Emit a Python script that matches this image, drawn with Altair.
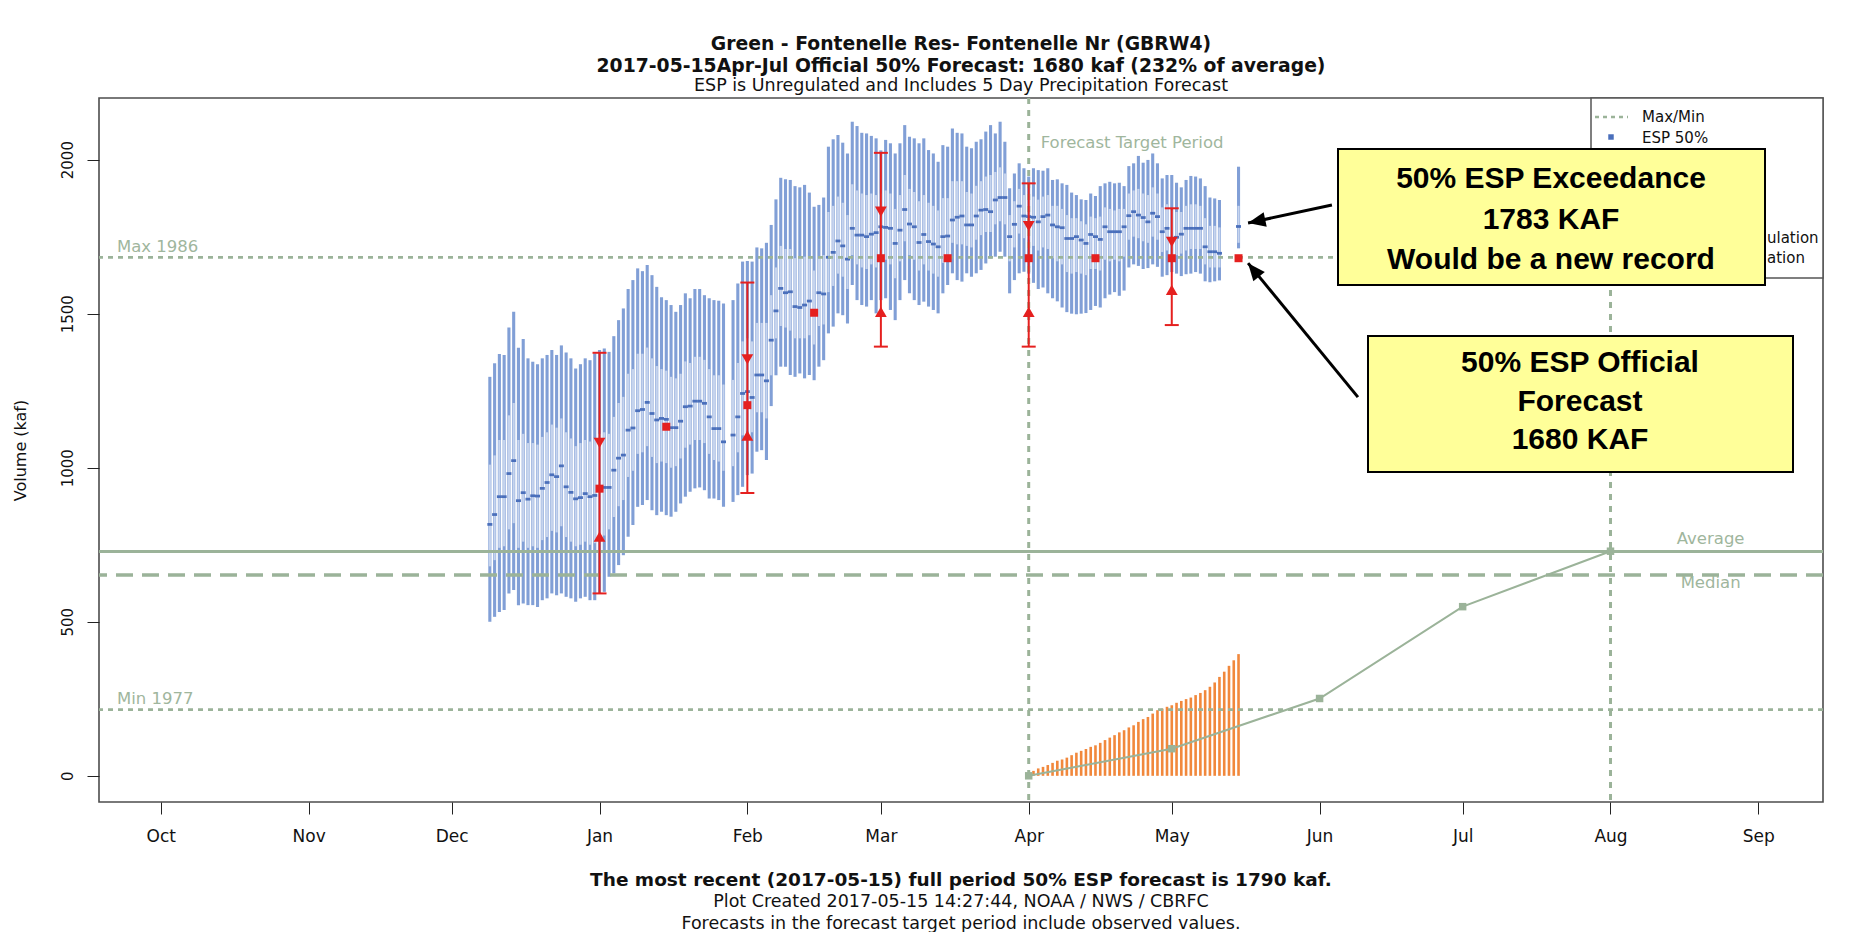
import altair as alt
import pandas as pd

# ---------------- data ----------------
ESP_START, ESP_END = "2016-12-09", "2017-05-11"
ESP_LAST_DATE = "2017-05-15"

ESP_HI = (
    [1295, 1339, 1369, 1366, 1455, 1506, 1389, 1418, 1355, 1344, 1336, 1355, 1366, 1382, 1366, 1397, 1374, 1355, 1322, 1336, 1355, 1349, 1371]
    + [1382, 1387, 1376, 1427, 1479, 1517, 1580, 1609, 1647, 1638, 1658, 1625, 1587, 1553, 1544, 1528, 1506, 1528, 1566, 1550, 1580, 1580, 1560, 1550, 1544, 1542, 1533, None, 1544, 1598, 1669]
    + [1671, 1669, 1715, 1712, 1730, 1788, 1871, 1941, 1936, 1934, 1914, 1910, 1918, 1893, 1847, 1853, 1877, 2042, 2066, 2080, 2055, 2020, 2123, 2109, 2087, 2085, 2077, 2069]
    + [2030, 2064, 2053, 2020, 2053, 2112, 2074, 2069, 2053, 2069, 2031, 2020, 1993, 2047, 2042, 2101, 2087, 2085, 2042, 2037, 2058, 2066, 2091, 2112, 2085, 2123, 2058, 1907, 1955, 1988, 1972]
    + [1945, 1972, 1966, 1964, 1972, 1934, 1936, 1923, 1918, 1893, 1885, 1871, 1869, 1890, 1882, 1914, 1923, 1928, 1923, 1925, 1914, 1979, 1988, 2012, 1990, 1999, 2020, 1988, 1939, 1950]
    + [1950, 1925, 1910, 1934, 1947, 1945, 1939, 1914, 1877, 1874, 1869]
    + [1977]
)
ESP_Q75 = (
    [1010, 1040, 1090, 1090, 1170, 1210, 1090, 1110, 1080, 1080, 1075, 1100, 1115, 1140, 1130, 1160, 1115, 1095, 1070, 1080, 1090, 1085, 1095]
    + [1110, 1115, 1110, 1165, 1210, 1230, 1305, 1320, 1370, 1370, 1390, 1355, 1330, 1320, 1315, 1295, 1290, 1305, 1345, 1340, 1360, 1360, 1350, 1320, 1300, 1300, 1270, None, 1285, 1340, 1410]
    + [1420, 1410, 1470, 1470, 1470, 1560, 1650, 1720, 1710, 1710, 1680, 1680, 1685, 1680, 1640, 1680, 1690, 1830, 1850, 1880, 1860, 1820, 1920, 1900, 1890, 1885, 1890, 1885]
    + [1890, 1900, 1890, 1840, 1885, 1950, 1905, 1895, 1865, 1885, 1860, 1850, 1835, 1875, 1875, 1930, 1930, 1930, 1895, 1890, 1915, 1930, 1945, 1950, 1960, 1975, 1955, 1820, 1865, 1905, 1885]
    + [1870, 1880, 1870, 1880, 1885, 1850, 1850, 1840, 1820, 1810, 1810, 1800, 1790, 1815, 1810, 1815, 1845, 1840, 1835, 1840, 1840, 1890, 1900, 1905, 1890, 1885, 1910, 1890, 1845, 1855]
    + [1835, 1830, 1830, 1850, 1855, 1855, 1850, 1810, 1785, 1785, 1780]
    + [1850]
)
ESP_MED = (
    [816, 848, 906, 906, 981, 1023, 893, 919, 898, 909, 908, 933, 952, 977, 971, 1006, 938, 920, 899, 903, 916, 906, 910]
    + [933, 936, 936, 992, 1031, 1041, 1122, 1129, 1185, 1189, 1212, 1176, 1155, 1160, 1157, 1130, 1130, 1151, 1198, 1200, 1216, 1216, 1209, 1165, 1127, 1127, 1084, None, 1106, 1165, 1241]
    + [1247, 1228, 1301, 1301, 1282, 1414, 1509, 1582, 1568, 1571, 1523, 1520, 1528, 1541, 1503, 1568, 1564, 1683, 1699, 1736, 1720, 1677, 1777, 1755, 1755, 1750, 1758, 1763]
    + [1782, 1780, 1777, 1728, 1771, 1838, 1791, 1782, 1731, 1757, 1734, 1726, 1717, 1750, 1752, 1804, 1813, 1817, 1788, 1788, 1817, 1836, 1838, 1831, 1869, 1877, 1877, 1750, 1790, 1849, 1817]
    + [1815, 1813, 1798, 1815, 1820, 1788, 1782, 1779, 1744, 1744, 1750, 1739, 1728, 1757, 1750, 1741, 1782, 1766, 1766, 1766, 1782, 1818, 1831, 1820, 1812, 1798, 1826, 1815, 1766, 1777]
    + [1739, 1748, 1758, 1777, 1777, 1777, 1777, 1717, 1701, 1701, 1696]
    + [1783]
)
ESP_Q25 = (
    [680, 700, 740, 745, 800, 820, 740, 760, 740, 745, 740, 765, 775, 795, 790, 810, 775, 760, 745, 750, 760, 750, 755]
    + [775, 780, 800, 840, 875, 895, 970, 990, 1045, 1050, 1070, 1035, 1015, 1020, 1015, 1000, 1005, 1030, 1065, 1075, 1090, 1090, 1080, 1045, 1025, 1020, 990, None, 1005, 1050, 1105]
    + [1120, 1115, 1180, 1180, 1160, 1300, 1420, 1460, 1455, 1445, 1420, 1420, 1420, 1430, 1400, 1460, 1465, 1570, 1590, 1630, 1620, 1580, 1690, 1660, 1650, 1645, 1660, 1650]
    + [1675, 1675, 1660, 1615, 1670, 1735, 1690, 1675, 1640, 1660, 1640, 1630, 1620, 1665, 1680, 1730, 1725, 1725, 1720, 1715, 1740, 1755, 1765, 1765, 1790, 1800, 1790, 1670, 1715, 1760, 1745]
    + [1740, 1720, 1705, 1715, 1710, 1680, 1670, 1660, 1635, 1630, 1635, 1630, 1625, 1645, 1645, 1640, 1675, 1670, 1675, 1670, 1685, 1740, 1750, 1745, 1735, 1730, 1750, 1740, 1700, 1705]
    + [1690, 1690, 1695, 1705, 1710, 1710, 1710, 1660, 1650, 1650, 1650]
    + [1730]
)
ESP_LO = (
    [500, 516, 532, 538, 592, 603, 554, 559, 554, 554, 548, 570, 576, 592, 586, 592, 581, 576, 565, 576, 581, 570, 570]
    + [592, 597, 646, 657, 684, 716, 776, 814, 873, 879, 895, 862, 846, 857, 846, 841, 857, 884, 906, 922, 933, 936, 927, 900, 900, 895, 873, None, 889, 911, 938]
    + [976, 981, 1052, 1057, 1025, 1200, 1300, 1328, 1328, 1301, 1295, 1306, 1290, 1301, 1284, 1328, 1349, 1436, 1458, 1501, 1495, 1468, 1593, 1544, 1528, 1523, 1544, 1501]
    + [1544, 1550, 1512, 1479, 1544, 1609, 1566, 1544, 1528, 1539, 1523, 1512, 1501, 1566, 1593, 1631, 1609, 1604, 1631, 1620, 1631, 1642, 1663, 1679, 1685, 1701, 1685, 1566, 1609, 1631, 1636]
    + [1630, 1600, 1580, 1585, 1566, 1550, 1540, 1520, 1505, 1500, 1498, 1500, 1502, 1512, 1525, 1520, 1550, 1562, 1570, 1558, 1575, 1650, 1660, 1655, 1645, 1648, 1660, 1652, 1620, 1625]
    + [1635, 1630, 1622, 1628, 1630, 1635, 1630, 1605, 1602, 1605, 1608]
    + [1712]
)

OFFICIAL_DATES = ["2017-01-01", "2017-01-15", "2017-02-01", "2017-02-15", "2017-03-01",
                  "2017-03-15", "2017-04-01", "2017-04-15", "2017-05-01", "2017-05-15"]
OFFICIAL_50 = [932, 1133, 1203, 1503, 1680, 1680, 1680, 1680, 1680, 1680]
BAR_DATES = ["2017-01-01", "2017-02-01", "2017-03-01", "2017-04-01", "2017-05-01"]
BAR_HI = [1373, 1601, 2022, 1923, 1842]
BAR_LO = [592, 918, 1393, 1393, 1463]
TRI_DOWN = [1081, 1352, 1831, 1784, 1733]
TRI_UP = [776, 1104, 1506, 1506, 1577]

OBS_START, OBS_END = "2017-04-02", "2017-05-15"
OBS_ACC = [16, 24, 29, 35, 42, 49, 53, 59, 67, 75, 81, 87, 94, 99, 107, 116, 124, 132, 141, 148,
           157, 164, 175, 184, 191, 202, 213, 218, 224, 229, 237, 243, 249, 254, 262, 269, 278, 289,
           303, 321, 338, 357, 375, 395]

AVG_ACC_DATES = ["2017-04-01", "2017-05-01", "2017-06-01", "2017-07-01", "2017-08-01"]
AVG_ACC = [0, 88, 251, 549, 729]

AVERAGE, MEDIAN, MAX_VAL, MIN_VAL = 728, 652, 1683, 215
TARGET_DATES = ["2017-04-01", "2017-08-01"]

ARROW_FROM = ["2017-06-03T14:00:00Z", "2017-06-09T01:00:00Z"]
ARROW_FROM_V = [1853, 1229]
ARROW_TO = ["2017-05-17T00:00:00Z", "2017-05-17T00:00:00Z"]
ARROW_TO_V = [1794, 1664]
ARROW_ANGLE = [258, 321]

MONTHS = [(2016, 10), (2016, 11), (2016, 12), (2017, 1), (2017, 2), (2017, 3),
          (2017, 4), (2017, 5), (2017, 6), (2017, 7), (2017, 8), (2017, 9)]

# ---------------- styling ----------------
W, H = 1724, 704
FONT = "DejaVu Sans"
BOX_FONT = "Liberation Sans"
GREEN = "#9bb399"
GREEN_TXT = "#9fb69d"
ESP_DARK = "#819fd6"
ESP_LIGHT = "#c6d4ee"
ESP_DOT = "#4a6fbb"
RED = "#e5201f"
ORANGE = "#f1883c"

xscale = alt.Scale(type="utc", domain=[
    alt.DateTime(year=2016, month=9, date=18, hours=1, utc=True),
    alt.DateTime(year=2017, month=9, date=14, hours=13, minutes=30, utc=True)])
yscale = alt.Scale(domain=[-85, 2200], nice=False, zero=False)

xaxis = alt.Axis(values=[alt.DateTime(year=y, month=m, date=1, utc=True) for y, m in MONTHS],
                 labelExpr="utcFormat(datum.value, '%b')", title=None, grid=False, domain=False,
                 tickSize=12, tickColor="#222", tickWidth=1, labelFont=FONT, labelFontSize=17,
                 labelColor="#111", labelPadding=14, labelFlush=False, labelOverlap=False)
yaxis = alt.Axis(values=[0, 500, 1000, 1500, 2000], format="d", title="Volume (kaf)", grid=False,
                 domain=False, tickSize=12, tickColor="#222", tickWidth=1, labelFont=FONT,
                 labelFontSize=15, labelColor="#111", labelAngle=270, labelAlign="center",
                 labelBaseline="bottom", labelPadding=12, titleFont=FONT, titleFontSize=16,
                 titleFontWeight="normal", titleColor="#111", titleAngle=270, titleX=-79, titleY=352,
                 titleAlign="center", titleBaseline="middle")


def X(field="date"):
    return alt.X(f"{field}:T", scale=xscale, axis=xaxis)


def Y(field="v"):
    return alt.Y(f"{field}:Q", scale=yscale, axis=yaxis)


one = pd.DataFrame({"k": [0]})


def txt(s, x, y, size, weight="normal", color="#111", align="center", font=FONT):
    return alt.Chart(one).mark_text(text=s, font=font, fontSize=size, fontWeight=weight,
                                    color=color, align=align, baseline="middle"
                                    ).encode(x=alt.value(x), y=alt.value(y))


# ---------------- tables ----------------
esp_dates = list(pd.date_range(ESP_START, ESP_END, freq="D").strftime("%Y-%m-%d")) + [ESP_LAST_DATE]
esp = pd.DataFrame({"date": esp_dates, "lo": ESP_LO, "q25": ESP_Q25, "med": ESP_MED,
                    "q75": ESP_Q75, "hi": ESP_HI}).dropna()
obs = pd.DataFrame({"date": list(pd.date_range(OBS_START, OBS_END, freq="D").strftime("%Y-%m-%d")),
                    "v": OBS_ACC, "base": [0] * len(OBS_ACC)})
avg_acc = pd.DataFrame({"date": AVG_ACC_DATES, "v": AVG_ACC})
official = pd.DataFrame({"date": OFFICIAL_DATES, "v": OFFICIAL_50})
bars = pd.DataFrame({"date": BAR_DATES, "lo": BAR_LO, "hi": BAR_HI})
caps = pd.DataFrame({"date": BAR_DATES + BAR_DATES, "v": BAR_HI + BAR_LO})
tri_dn = pd.DataFrame({"date": BAR_DATES, "v": TRI_DOWN})
tri_up = pd.DataFrame({"date": BAR_DATES, "v": TRI_UP})
arrows = pd.DataFrame({"date": ARROW_FROM, "v": ARROW_FROM_V, "date2": ARROW_TO, "v2": ARROW_TO_V})
heads = pd.DataFrame({"date": ARROW_TO, "v": ARROW_TO_V, "angle": ARROW_ANGLE})

layers = []

# ESP traces
layers.append(alt.Chart(esp).mark_rule(color=ESP_DARK, strokeWidth=3.1).encode(
    x=X(), y=Y("lo"), y2="hi:Q"))
layers.append(alt.Chart(esp).mark_rule(color=ESP_LIGHT, strokeWidth=2.2).encode(
    x=X(), y=Y("q25"), y2="q75:Q"))
layers.append(alt.Chart(esp).mark_point(shape="M-1,-0.55L1,-0.55L1,0.55L-1,0.55Z", filled=True,
                                         size=25, color=ESP_DOT, opacity=1).encode(x=X(), y=Y("med")))

# observed accumulation
layers.append(alt.Chart(obs).mark_rule(color=ORANGE, strokeWidth=2.6).encode(
    x=X(), y=Y("base"), y2="v:Q"))

# reference lines
layers.append(alt.Chart(pd.DataFrame({"v": [AVERAGE]})).mark_rule(
    color=GREEN, strokeWidth=3).encode(y=Y()))
layers.append(alt.Chart(pd.DataFrame({"v": [MEDIAN]})).mark_rule(
    color=GREEN, strokeWidth=3.4, strokeDash=[17, 9]).encode(y=Y()))
layers.append(alt.Chart(pd.DataFrame({"v": [MAX_VAL, MIN_VAL]})).mark_rule(
    color=GREEN, strokeWidth=2.7, strokeDash=[5, 5]).encode(y=Y()))
layers.append(alt.Chart(pd.DataFrame({"date": TARGET_DATES})).mark_rule(
    color=GREEN, strokeWidth=3, strokeDash=[6, 6]).encode(x=X()))

# average accumulation
layers.append(alt.Chart(avg_acc).mark_line(color=GREEN, strokeWidth=2).encode(x=X(), y=Y()))
layers.append(alt.Chart(avg_acc).mark_point(shape="square", filled=True, size=56, color=GREEN,
                                             opacity=1).encode(x=X(), y=Y()))

# official forecasts
layers.append(alt.Chart(bars).mark_rule(color=RED, strokeWidth=2).encode(x=X(), y=Y("lo"), y2="hi:Q"))
layers.append(alt.Chart(caps).mark_point(shape="M-1,0L1,0", filled=False, size=196, color=RED,
                                          strokeWidth=2, opacity=1).encode(x=X(), y=Y()))
layers.append(alt.Chart(tri_dn).mark_point(shape="triangle-down", filled=True, size=140, color=RED,
                                            opacity=1).encode(x=X(), y=Y()))
layers.append(alt.Chart(tri_up).mark_point(shape="triangle-up", filled=True, size=140, color=RED,
                                            opacity=1).encode(x=X(), y=Y()))
layers.append(alt.Chart(official).mark_point(shape="square", filled=True, size=64, color=RED,
                                              opacity=1).encode(x=X(), y=Y()))

# green labels
lab = dict(font=FONT, fontSize=16.5, color=GREEN_TXT, baseline="middle")
layers.append(alt.Chart(pd.DataFrame({"v": [MAX_VAL]})).mark_text(
    text="Max 1986", align="left", dy=-10, **lab).encode(x=alt.value(18), y=Y()))
layers.append(alt.Chart(pd.DataFrame({"v": [MIN_VAL]})).mark_text(
    text="Min 1977", align="left", dy=-11, **lab).encode(x=alt.value(18), y=Y()))
layers.append(alt.Chart(pd.DataFrame({"date": ["2017-08-22"], "v": [AVERAGE]})).mark_text(
    text="Average", align="center", dy=-13, **lab).encode(x=X(), y=Y()))
layers.append(alt.Chart(pd.DataFrame({"date": ["2017-08-22"], "v": [MEDIAN]})).mark_text(
    text="Median", align="center", dy=8, **lab).encode(x=X(), y=Y()))
layers.append(alt.Chart(pd.DataFrame({"date": [TARGET_DATES[0]]})).mark_text(
    text="Forecast Target Period", align="left", dx=12, **lab).encode(x=X(), y=alt.value(45)))

# legend (mostly hidden by the call-out; only the visible pieces are drawn)
layers.append(alt.Chart(one).mark_rect(fill="white", stroke="#555", strokeWidth=1.5).encode(
    x=alt.value(1492), x2=alt.value(W), y=alt.value(0), y2=alt.value(180)))
layers.append(alt.Chart(one).mark_rule(color=GREEN, strokeWidth=2.5, strokeDash=[4, 4]).encode(
    x=alt.value(1496), x2=alt.value(1529), y=alt.value(19)))
layers.append(alt.Chart(one).mark_point(shape="square", filled=True, size=30, color=ESP_DOT,
                                         opacity=1).encode(x=alt.value(1512), y=alt.value(39)))
layers.append(txt("Max/Min", 1543, 19, 15, align="left"))
layers.append(txt("ESP 50%", 1543, 40, 15, align="left"))
layers.append(txt("ulation", 1668, 140, 15, align="left"))
layers.append(txt("ation", 1668, 160, 15, align="left"))

# call-outs
YEL = "#ffff99"
layers.append(alt.Chart(one).mark_rect(fill=YEL, stroke="black", strokeWidth=2).encode(
    x=alt.value(1239), x2=alt.value(1666), y=alt.value(51), y2=alt.value(187)))
layers.append(alt.Chart(one).mark_rect(fill=YEL, stroke="black", strokeWidth=2).encode(
    x=alt.value(1269), x2=alt.value(1694), y=alt.value(238), y2=alt.value(374)))
for s, y in [("50% ESP Exceedance", 81), ("1783 KAF", 122), ("Would be a new record", 162)]:
    layers.append(txt(s, 1452, y, 30, weight="bold", color="black", font=BOX_FONT))
for s, y in [("50% ESP Official", 265), ("Forecast", 304), ("1680 KAF", 342)]:
    layers.append(txt(s, 1481, y, 30, weight="bold", color="black", font=BOX_FONT))
layers.append(alt.Chart(arrows).mark_rule(color="black", strokeWidth=3).encode(
    x=X(), y=Y(), x2="date2:T", y2="v2:Q"))
layers.append(alt.Chart(heads).mark_point(shape="M0,0L-0.42,1L0.42,1Z", filled=True, size=1225,
                                           color="black", opacity=1, strokeWidth=0).encode(
    x=X(), y=Y(), angle=alt.Angle("angle:Q", scale=None)))

# titles and footers
CX = W / 2
layers.append(txt("Green - Fontenelle Res- Fontenelle Nr (GBRW4)", CX, -54, 18.8, weight="bold"))
layers.append(txt("2017-05-15Apr-Jul Official 50% Forecast: 1680 kaf (232% of average)", CX, -32.5, 18.8,
                  weight="bold"))
layers.append(txt("ESP is Unregulated and Includes 5 Day Precipitation Forecast", CX, -12, 17.5))
layers.append(txt("The most recent (2017-05-15) full period 50% ESP forecast is 1790 kaf.", CX, 782, 18.5,
                  weight="bold"))
layers.append(txt("Plot Created 2017-05-15 14:27:44, NOAA / NWS / CBRFC", CX, 804, 17.5))
layers.append(txt("Forecasts in the forecast target period include observed values.", CX, 826, 17.5))

chart = alt.layer(*layers).properties(
    width=W, height=H,
    padding={"left": 91, "top": 90, "right": 30, "bottom": 130},
    autosize=alt.AutoSizeParams(type="none"),
    background="white",
).configure_view(stroke="#4d4d4d", strokeWidth=1.6)

chart.save("out.html", embed_options={"renderer": "svg", "actions": False})
